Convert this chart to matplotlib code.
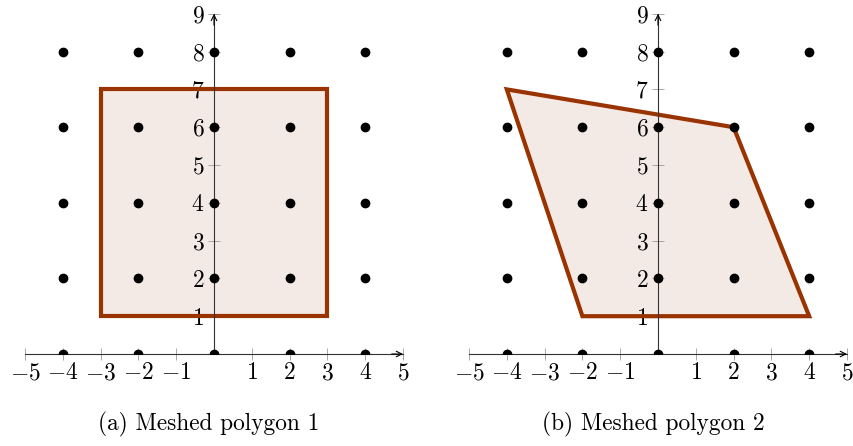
import matplotlib
matplotlib.use("Agg")
import matplotlib.pyplot as plt

plt.rcParams["mathtext.fontset"] = "cm"
plt.rcParams["font.family"] = "serif"
plt.rcParams["font.serif"] = ["cmr10", "DejaVu Serif"]
plt.rcParams["axes.unicode_minus"] = False

# mesh points
mesh_x = [-4, -2, 0, 2, 4]
mesh_y = [0, 2, 4, 6, 8]

# polygons
poly1_x = [-3, 3, 3, -3]
poly1_y = [1, 1, 7, 7]
poly2_x = [-4, 2, 4, -2]
poly2_y = [7, 6, 1, 1]

xticks = [-5, -4, -3, -2, -1, 1, 2, 3, 4, 5]
yticks = [1, 2, 3, 4, 5, 6, 7, 8, 9]
captions = ["(a) Meshed polygon 1", "(b) Meshed polygon 2"]

edge = "#993300"

fig = plt.figure(figsize=(8.54, 4.46), dpi=100)
W, H = 854, 446
unit = 37.8


def panel(x0_px, px, py, caption):
    # x0_px: pixel where x=-5 sits
    left = x0_px - 0.3 * unit
    ax = fig.add_axes([left / W, 92 / H, 10.6 * unit / W, 9.3 * unit / H])
    ax.set_xlim(-5.3, 5.3)
    ax.set_ylim(0, 9.3)

    ax.fill(px, py, facecolor=edge, alpha=0.1, zorder=1)
    ax.fill(px, py, facecolor="none", edgecolor=edge, lw=3, joinstyle="miter", zorder=2)

    gx = [x for x in mesh_x for y in mesh_y]
    gy = [y for x in mesh_x for y in mesh_y]
    ax.plot(gx, gy, "o", color="black", ms=6, zorder=4)

    for s in ["top", "right"]:
        ax.spines[s].set_visible(False)
    ax.spines["bottom"].set_position(("data", 0))
    ax.spines["left"].set_position(("data", 0))
    ax.spines["bottom"].set_bounds(-5, 5)
    ax.spines["left"].set_bounds(0, 9)
    for s in ["bottom", "left"]:
        ax.spines[s].set_color("#333333")
        ax.spines[s].set_linewidth(0.8)
        ax.spines[s].set_zorder(3)

    ax.set_xticks(xticks)
    ax.set_xticklabels([f"${t}$" if t > 0 else f"$-{-t}$" for t in xticks])
    ax.set_yticks(yticks)
    ax.set_yticklabels([f"${t}$" for t in yticks])
    ax.tick_params(direction="inout", length=8, width=0.6, color="#999999",
                   labelsize=17, pad=3)
    ax.tick_params(axis="x", pad=2)

    ax.annotate("", xy=(5, 0), xytext=(4.7, 0),
                arrowprops=dict(arrowstyle="->", color="black", lw=0.8,
                                shrinkA=0, shrinkB=0), zorder=5)
    ax.annotate("", xy=(0, 9), xytext=(0, 8.7),
                arrowprops=dict(arrowstyle="->", color="black", lw=0.8,
                                shrinkA=0, shrinkB=0), zorder=5)

    cx = x0_px + 5 * unit - 5
    fig.text(cx / W, 1 - 424 / H, caption, ha="center", va="center", fontsize=16.8)
    return ax


panel(25, poly1_x, poly1_y, captions[0])
panel(469, poly2_x, poly2_y, captions[1])

fig.savefig("out.png", dpi=100)
